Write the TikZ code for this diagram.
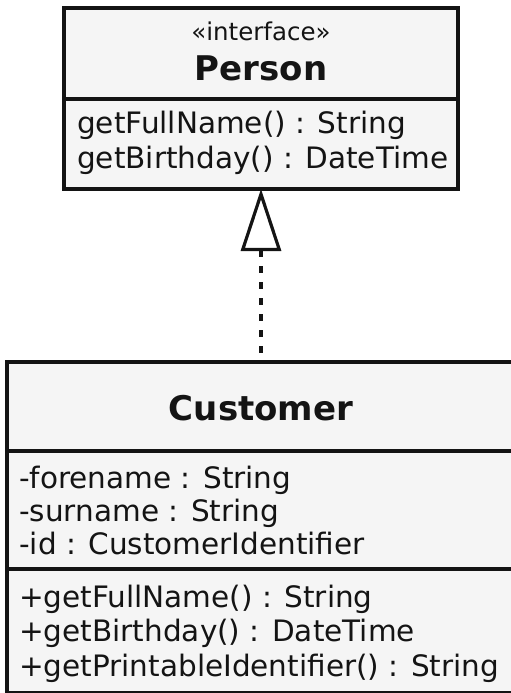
\documentclass[tikz,border=0pt]{standalone}
\usepackage{fontspec}
\setmainfont{DejaVu Sans}
\usepackage{xcolor}
\usetikzlibrary{arrows.meta, positioning}

\definecolor{boxfill}{HTML}{F5F5F5}
\definecolor{inkdark}{HTML}{141414}

\begin{document}
\begin{tikzpicture}[x=1pt, y=-1pt,
    every node/.style={text=inkdark},
    classbox/.style={rectangle, draw=inkdark, line width=3.6pt, fill=boxfill, inner sep=0pt, outer sep=0pt},
    stereo/.style={anchor=base, inner sep=0pt, font=\fontsize{24.5}{29}\selectfont},
    classname/.style={anchor=base, inner sep=0pt, font=\fontsize{34}{38}\selectfont\bfseries},
    member/.style={anchor=base west, inner sep=0pt, font=\fontsize{29.5}{34}\selectfont},
    realize/.style={line width=3.5pt, draw=inkdark, dash pattern=on 7pt off 9pt},
]
\useasboundingbox (0,0) rectangle (511,693);
\clip (0,0) rectangle (511,693);

% Interface
\node[classbox, anchor=north west, minimum width=394pt, minimum height=91pt] (personHead) at (64,8) {};
\node[classbox, below=0pt of personHead, minimum width=394pt, minimum height=90pt] (personOps) {};
\node[stereo] (stereo) at ([yshift=-33pt]personHead.north) {«interface»};
\node[classname] (personName) at ([yshift=-73pt]personHead.north) {Person};
\node[member] (personOp1) at ([xshift=13pt, yshift=-34pt]personOps.north west) {getFullName() : String};
\node[member] (personOp2) at ([xshift=13pt, yshift=-69pt]personOps.north west) {getBirthday() : DateTime};

% Class
\node[classbox, anchor=north west, minimum width=508pt, minimum height=89pt] (customerHead) at (7,362) {};
\node[classbox, below=0pt of customerHead, minimum width=508pt, minimum height=118pt] (customerAttrs) {};
\node[classbox, below=0pt of customerAttrs, minimum width=508pt, minimum height=124pt] (customerOps) {};
\node[classname] (customerName) at ([yshift=-58pt]customerHead.north) {Customer};
\node[member] (attr1) at ([xshift=12pt, yshift=-37pt]customerAttrs.north west) {-forename : String};
\node[member] (attr2) at ([xshift=12pt, yshift=-70pt]customerAttrs.north west) {-surname : String};
\node[member] (attr3) at ([xshift=12pt, yshift=-103pt]customerAttrs.north west) {-id : CustomerIdentifier};
\node[member] (op1) at ([xshift=12pt, yshift=-38pt]customerOps.north west) {+getFullName() : String};
\node[member] (op2) at ([xshift=12pt, yshift=-72pt]customerOps.north west) {+getBirthday() : DateTime};
\node[member] (op3) at ([xshift=12pt, yshift=-107pt]customerOps.north west) {+getPrintableIdentifier() : String};

% Realization
\draw[realize, {Triangle[open, length=62pt, width=40pt, line width=3.2pt]}-] (personOps.south) -- (customerHead.north);

\end{tikzpicture}
\end{document}
